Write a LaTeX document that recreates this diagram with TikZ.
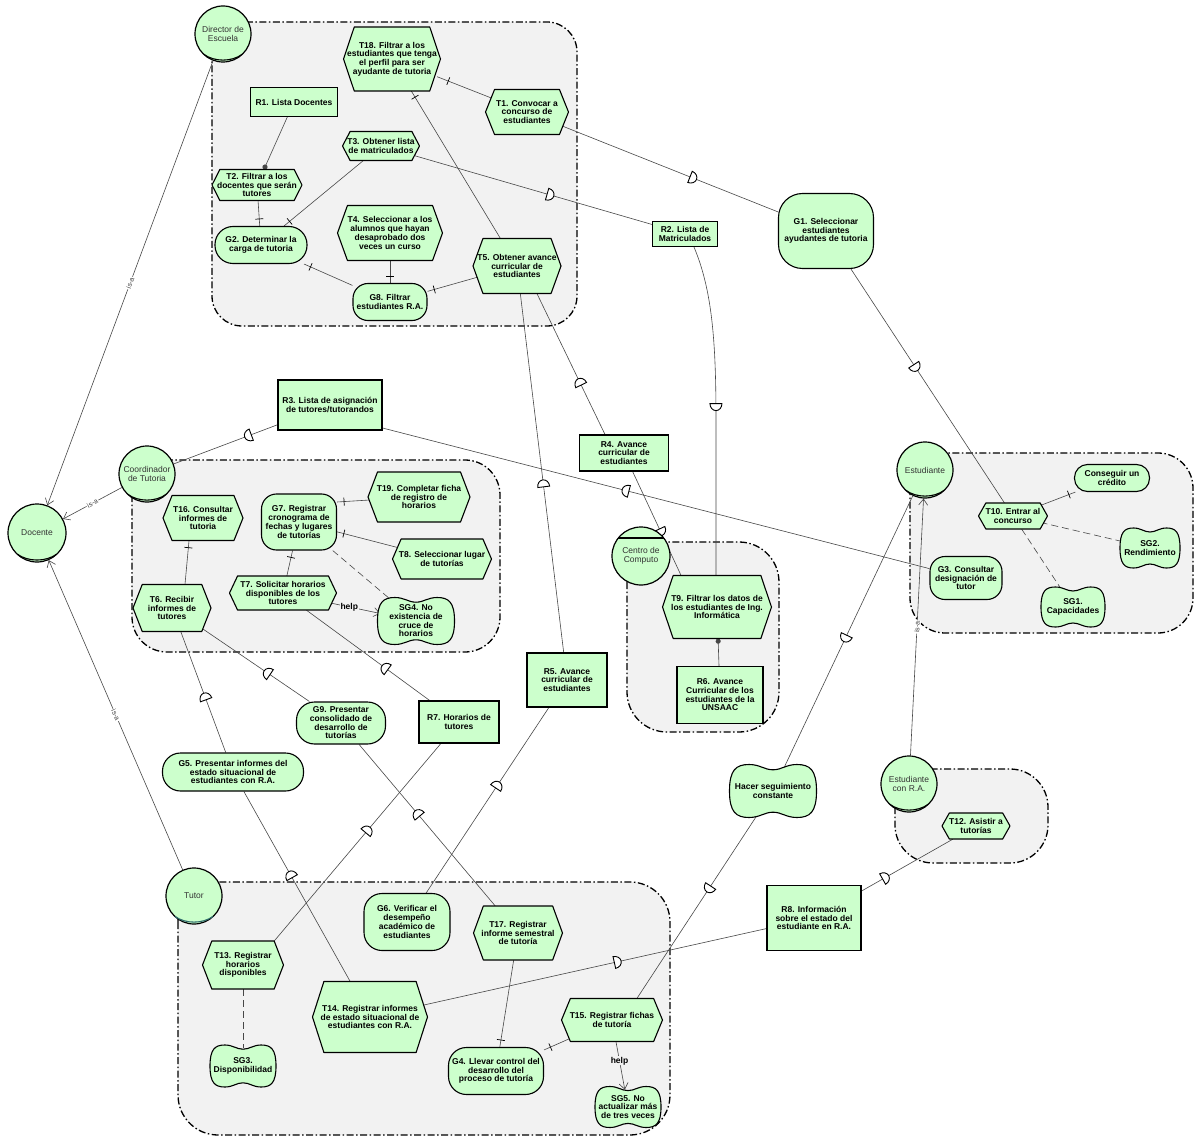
\documentclass[tikz,border=0pt]{standalone}
\usepackage{fontspec}
\setmainfont{Liberation Sans}
\usetikzlibrary{arrows.meta,decorations.markings,shapes.geometric}
\pgfdeclarelayer{bnd}
\pgfdeclarelayer{lnk}
\pgfsetlayers{bnd,lnk,main}
\definecolor{gfill}{HTML}{CCFFCC}
\definecolor{bgray}{HTML}{F2F2F2}
\definecolor{actxt}{HTML}{333333}
\definecolor{tealarc}{HTML}{2E6B6B}
\newcommand\ndfont{\fontsize{8.5}{8.7}\selectfont\bfseries}
\newcommand\acfont{\fontsize{8.5}{9.4}\selectfont}
\newcommand\isafont{\fontsize{7}{7}\selectfont}
\tikzset{
  lnkst/.style={draw=black!72, line width=0.6pt},
  bndst/.style={draw=black, line width=1.3pt, fill=bgray, dash pattern=on 7pt off 2.5pt on 1.5pt off 2.5pt},
  gnode/.style={draw=black, line width=1.1pt, fill=gfill, font=\ndfont, align=center, inner sep=0pt},
  goalst/.style={gnode, rounded corners=#1},
  shp/.style={draw=black, line width=1.1pt, fill=gfill, line join=round},
  txt/.style={font=\ndfont, align=center, inner sep=0pt},
  sgclip/.style={ellipse, inner sep=0pt},
  actorst/.style={circle, draw=black, line width=1.2pt, fill=gfill, minimum size=56pt, inner sep=0pt, font=\acfont, text=actxt, align=center},
  isa/.style={lnkst, -{Straight Barb[length=6pt,width=9pt]}},
  isal/.style={font=\isafont, text=black!75, fill=white, inner sep=1pt, sloped},
  dec/.style={lnkst, postaction={decorate}, decoration={markings, mark=at position -#1 with {\draw[black, line width=0.7pt] (0pt,-4pt) -- (0pt,4pt);}}},
  dec/.default=7pt,
  dep/.style={lnkst, postaction={decorate}, decoration={markings, mark=at position #1 with {\draw[black, line width=0.9pt, fill=white] (-3pt,-6pt) -- (-3pt,6pt) arc[start angle=90, end angle=-90, x radius=7pt, y radius=6pt] -- cycle;}}},
  dep/.default=0.5,
  me/.style={lnkst, -{Circle[length=5pt]}},
  contr/.style={lnkst, dash pattern=on 7pt off 4pt},
  helpst/.style={lnkst, -{Straight Barb[length=6pt,width=9pt]}},
  helpl/.style={font=\ndfont, fill=bgray, inner sep=0.6pt},
}
% task: name, x, y, w, h, text
\newcommand\tsk[6]{%
  \pgfmathsetmacro\hexs{5+0.09*#5}%
  \pgfmathsetmacro\hexw{#4-2*\hexs}%
  \draw[shp] ({#2-#4/2},#3) -- ({#2-#4/2+\hexs},{#3-#5/2}) -- ({#2+#4/2-\hexs},{#3-#5/2}) -- ({#2+#4/2},#3) -- ({#2+#4/2-\hexs},{#3+#5/2}) -- ({#2-#4/2+\hexs},{#3+#5/2}) -- cycle;
  \node[txt, minimum width={\hexw pt}, minimum height=#5pt] (#1) at (#2,#3) {#6};}
% softgoal: name, x, y, w, h, text
\newcommand\sgl[6]{%
  \pgfmathsetmacro\sga{#4/2}%
  \pgfmathsetmacro\sgb{#5/2}%
  \draw[shp, shift={(#2,#3)}] (-\sga,0) .. controls (-\sga,-0.8*\sgb) and (-0.85*\sga,-\sgb) .. (-0.55*\sga,-\sgb)
    .. controls (-0.3*\sga,-\sgb) and (-0.2*\sga,-0.8*\sgb) .. (0,-0.8*\sgb)
    .. controls (0.2*\sga,-0.8*\sgb) and (0.3*\sga,-\sgb) .. (0.55*\sga,-\sgb)
    .. controls (0.85*\sga,-\sgb) and (\sga,-0.8*\sgb) .. (\sga,0)
    .. controls (\sga,0.8*\sgb) and (0.85*\sga,\sgb) .. (0.55*\sga,\sgb)
    .. controls (0.3*\sga,\sgb) and (0.2*\sga,0.8*\sgb) .. (0,0.8*\sgb)
    .. controls (-0.2*\sga,0.8*\sgb) and (-0.3*\sga,\sgb) .. (-0.55*\sga,\sgb)
    .. controls (-0.85*\sga,\sgb) and (-\sga,0.8*\sgb) .. (-\sga,0) -- cycle;
  \node[sgclip, minimum width=#4pt, minimum height={0.84*#5pt}] (#1) at (#2,#3) {};
  \node[txt] (#1t) at (#2,#3) {#6};}
% role arc: [colour] x, y, r
\newcommand\rolearc[4][black]{\draw[line width=1.1pt,#1] ({#2-0.68*#4},{#3+0.73*#4}) .. controls ({#2-0.3*#4},{#3+1.0*#4}) and ({#2+0.3*#4},{#3+1.0*#4}) .. ({#2+0.68*#4},{#3+0.73*#4});}
\begin{document}
\begin{tikzpicture}[x=1pt,y=-1pt]
\useasboundingbox (0,0) rectangle (1200,1142);
\begin{pgfonlayer}{bnd}
\fill[white] (0,0) rectangle (1200,1142);
\draw[bndst, rounded corners=30pt] (212,22) rectangle (577,326);
\draw[bndst, rounded corners=35pt] (132,460) rectangle (500,652);
\draw[bndst, rounded corners=35pt] (910,453) rectangle (1193,633);
\draw[bndst, rounded corners=38pt] (895,769) rectangle (1048,863);
\draw[bndst, rounded corners=40pt] (627,542) rectangle (779,732);
\draw[bndst, rounded corners=40pt] (178,882) rectangle (670,1135);
\end{pgfonlayer}

% actors
\node[actorst] (Dir) at (223,34) {Director de\\Escuela};
\rolearc{223}{34}{28}
\node[actorst, minimum size=58pt] (Doc) at (37,533) {Docente};
\rolearc{37}{533}{29}
\node[actorst] (Coord) at (147,474) {Coordinador\\de Tutoria};
\rolearc{147}{474}{28}
\node[actorst] (Tutor) at (194,896) {Tutor};
\rolearc[tealarc]{194}{896}{28}
\node[actorst] (Est) at (925,470) {Estudiante};
\rolearc{925}{470}{28}
\node[actorst] (EstRA) at (909,784) {Estudiante\\con R.A.};
\rolearc{909}{784}{28}
\node[actorst, minimum size=58pt] (CC) at (641,556) {Centro de\\Computo};
\draw[line width=1.1pt] ({641-0.785*29},{556-0.62*29}) -- ({641+0.785*29},{556-0.62*29});

% Director de Escuela
\tsk{T18}{392}{59}{97}{64}{T18. Filtrar a los\\estudiantes que tenga\\el perfil para ser\\ayudante de tutoria}
\node[gnode, minimum width=87pt, minimum height=29pt] (R1) at (294,102) {R1. Lista Docentes};
\tsk{T1}{527}{112}{83}{45}{T1. Convocar a\\concurso de\\estudiantes}
\tsk{T3}{381}{146}{77}{29}{T3. Obtener lista\\de matriculados}
\tsk{T2}{257}{185}{90}{31}{T2. Filtrar a los\\docentes que serán\\tutores}
\node[goalst=18pt, minimum width=92pt, minimum height=37pt] (G2) at (261,245) {G2. Determinar la\\carga de tutoria};
\tsk{T4}{390}{233}{105}{55}{T4. Seleccionar a los\\alumnos que hayan\\desaprobado dos\\veces un curso}
\tsk{T5}{517}{266}{88}{55}{T5. Obtener avance\\curricular de\\estudiantes}
\node[goalst=15pt, minimum width=74pt, minimum height=37pt] (G8) at (390,302) {G8. Filtrar\\estudiantes R.A.};

% free dependums
\node[gnode, minimum width=65pt, minimum height=25pt] (R2) at (685,234) {R2. Lista de\\Matriculados};
\node[goalst=24pt, minimum width=95pt, minimum height=75pt] (G1) at (826,231) {G1. Seleccionar\\estudiantes\\ayudantes de tutoria};
\node[gnode, minimum width=104pt, minimum height=50pt] (R3) at (330,405) {R3. Lista de asignación\\de tutores/tutorandos};
\node[gnode, minimum width=89pt, minimum height=36pt] (R4) at (624,453) {R4. Avance\\curricular de\\estudiantes};
\node[gnode, minimum width=80pt, minimum height=54pt] (R5) at (567,680) {R5. Avance\\curricular de\\estudiantes};
\node[gnode, minimum width=80pt, minimum height=42pt] (R7) at (459,722) {R7. Horarios de\\tutores};
\node[goalst=18pt, minimum width=89pt, minimum height=42pt] (G9) at (341,723) {G9. Presentar\\consolidado de\\desarrollo de\\tutorías};
\node[goalst=18pt, minimum width=141pt, minimum height=38pt] (G5) at (233,772) {G5. Presentar informes del\\estado situacional de\\estudiantes con R.A.};
\sgl{HSC}{773}{791}{87}{53}{Hacer seguimiento\\constante}
\node[gnode, minimum width=94pt, minimum height=65pt] (R8) at (814,918) {R8. Información\\sobre el estado del\\estudiante en R.A.};

% Coordinador de Tutoria
\tsk{T16}{203}{518}{80}{45}{T16. Consultar\\informes de\\tutoria}
\node[goalst=15pt, minimum width=75pt, minimum height=56pt] (G7) at (299,522) {G7. Registrar\\cronograma de\\fechas y lugares\\de tutorías};
\tsk{T19}{419}{497}{102}{50}{T19. Completar ficha\\de registro de\\horarios}
\tsk{T8}{442}{559}{99}{40}{T8. Seleccionar lugar\\de tutorías}
\tsk{T7}{283}{593}{107}{34}{T7. Solicitar horarios\\disponibles de los\\tutores}
\sgl{SG4}{416}{621}{77}{47}{SG4. No\\existencia de\\cruce de\\horarios}
\tsk{T6}{172}{608}{78}{47}{T6. Recibir\\informes de\\tutores}

% Estudiante
\node[goalst=13pt, minimum width=75pt, minimum height=27pt] (GC) at (1112,478) {Conseguir un\\crédito};
\tsk{T10}{1013}{516}{69}{26}{T10. Entrar al\\concurso}
\sgl{SG2}{1150}{548}{60}{40}{SG2.\\Rendimiento}
\node[goalst=15pt, minimum width=72pt, minimum height=43pt] (G3) at (966,578) {G3. Consultar\\designación de\\tutor};
\sgl{SG1}{1073}{607}{64}{40}{SG1.\\Capacidades}

% Centro de Computo
\tsk{T9}{717}{607}{109}{63}{T9. Filtrar los datos de\\los estudiantes de Ing.\\Informática}
\node[gnode, minimum width=86pt, minimum height=57pt] (R6) at (720,695) {R6. Avance\\Curricular de los\\estudiantes de la\\UNSAAC};

% Estudiante con R.A.
\tsk{T12}{976}{826}{68}{26}{T12. Asistir a\\tutorías}

% Tutor
\node[goalst=18pt, minimum width=86pt, minimum height=57pt] (G6) at (407,922) {G6. Verificar el\\desempeño\\académico de\\estudiantes};
\tsk{T17}{518}{933}{89}{54}{T17. Registrar\\informe semestral\\de tutoría}
\tsk{T13}{243}{965}{81}{48}{T13. Registrar\\horarios\\disponibles}
\tsk{T14}{370}{1017}{115}{71}{T14. Registrar informes\\de estado situacional de\\estudiantes con R.A.}
\tsk{T15}{612}{1020}{101}{43}{T15. Registrar fichas\\de tutoría}
\sgl{SG3}{243}{1066}{66}{42}{SG3.\\Disponibilidad}
\node[goalst=18pt, minimum width=95pt, minimum height=47pt] (G4) at (496,1071) {G4. Llevar control del\\desarrollo del\\proceso de tutoría};
\sgl{SG5}{628}{1107}{66}{41}{SG5. No\\actualizar más\\de tres veces}

\begin{pgfonlayer}{lnk}
% is-a
\draw[isa] (Dir) -- node[isal] {is-a} (Doc);
\draw[isa] (Coord) -- node[isal] {is-a} (Doc);
\draw[isa] (Tutor) -- node[isal] {is-a} (Doc);
\draw[isa] (EstRA) -- node[isal] {is-a} (Est);
% decompositions
\draw[dec=12pt] (T1) -- (T18);
\draw[dec] (T5) -- (T18);
\draw[dec] (T2) -- (G2);
\draw[dec] (T3) -- (G2);
\draw[dec] (G8) -- (G2);
\draw[dec] (T4) -- (G8);
\draw[dec] (T5) -- (G8);
\draw[dec] (T19) -- ([yshift=20pt]G7.east);
\draw[dec] (T8) -- (G7);
\draw[dec] (T7) -- (G7);
\draw[dec] ([xshift=13pt]T6.north) -- ([xshift=-14pt]T16.south);
\draw[dec] (T10) -- (GC);
\draw[dec] (T17) -- (G4);
\draw[dec] (T15) -- (G4);
% means-end
\draw[me] (R1) -- (T2);
\draw[me] (R6) -- (T9);
% contributions
\draw[contr] (G7) -- (SG4);
\draw[contr] (T10) -- (SG2);
\draw[contr] (T10) -- (SG1);
\draw[contr] (T13) -- (SG3);
\draw[helpst] (T7) -- node[helpl, pos=0.4] {help} (SG4);
\draw[helpst] (T15) -- node[helpl, pos=0.4] {help} (SG5);
% dependencies
\draw[dep=0.61] (T1) -- (G1);
\draw[dep=0.57] (T3) -- (R2);
\draw[dep=0.49] ([xshift=9pt]R2.south) .. controls (712,290) and (716,340) .. (716,420) -- ([xshift=-1pt]T9.north);
\draw[dep=0.42] (G1) -- (T10);
\draw[dep=0.37] ([xshift=-19pt]R4.north) -- ([xshift=20pt]T5.south);
\draw[dep=0.58] (R4) -- ([xshift=-36pt]T9.north);
\draw[dep=0.47] (R5) -- (T5);
\draw[dep=0.58] (G6) -- (R5);
\draw[dep=0.28] (R3) -- (Coord);
\draw[dep=0.555] (G3) -- ([yshift=-23pt]R3.east);
\draw[dep=0.46] (G5) -- (T6);
\draw[dep=0.56] (T14) -- (G5);
\draw[dep=0.39] (G9) -- (T6);
\draw[dep=0.57] (T17) -- (G9);
\draw[dep=0.36] (R7) -- (T7);
\draw[dep=0.56] (T13.north east) -- (R7);
\draw[dep=0.52] (Est) -- (HSC);
\draw[dep=0.41] (HSC) -- ([xshift=25pt]T15.north);
\draw[dep=0.26] (R8) -- (T12);
\draw[dep=0.57] (T14) -- (R8);
\end{pgfonlayer}
\end{tikzpicture}
\end{document}
